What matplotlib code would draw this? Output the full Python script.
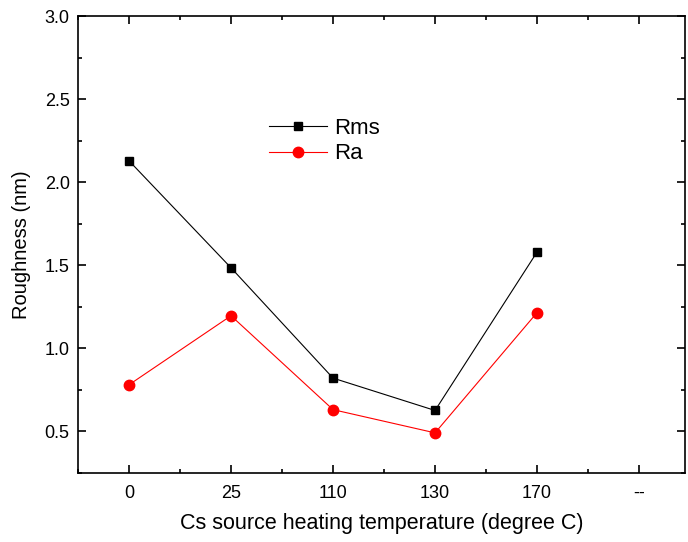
import matplotlib
matplotlib.use("Agg")
import matplotlib.pyplot as plt
from matplotlib.ticker import MultipleLocator, FixedLocator

plt.rcParams['font.family'] = ['Liberation Sans', 'DejaVu Sans']

categories = ['0', '25', '110', '130', '170', '--']
rms = [2.13, 1.485, 0.82, 0.625, 1.58]
ra = [0.78, 1.196, 0.63, 0.49, 1.215]

fig = plt.figure(figsize=(6.88, 5.42), dpi=100)
ax = fig.add_axes([0.1134, 0.1279, 0.8822, 0.8417])

x = list(range(len(rms)))
ax.plot(x, rms, color='black', lw=0.8, marker='s', ms=6, label='Rms')
ax.plot(x, ra, color='red', lw=0.8, marker='o', ms=7.5, label='Ra')

ax.set_xlim(-0.5, 5.45)
ax.set_ylim(0.25, 3.0)
ax.set_xticks(range(len(categories)))
ax.set_xticklabels(categories)
ax.xaxis.set_minor_locator(FixedLocator([i + 0.5 for i in range(-1, 6)]))
ax.yaxis.set_major_locator(MultipleLocator(0.5))
ax.yaxis.set_minor_locator(MultipleLocator(0.25))
ax.tick_params(which='both', direction='in', top=True, right=True, labelsize=13, width=1.2)
ax.tick_params(axis='x', pad=9)
ax.tick_params(axis='y', pad=6)
ax.tick_params(which='major', length=6)
ax.tick_params(which='minor', length=3)
for s in ax.spines.values():
    s.set_linewidth(1.2)

ax.set_xlabel('Cs source heating temperature (degree C)', fontsize=15.5, labelpad=8)
ax.set_ylabel('Roughness (nm)', fontsize=14.5, labelpad=10)

ax.legend(loc='upper left', bbox_to_anchor=(0.3, 0.797), frameon=False, fontsize=16,
          handlelength=2.6, handletextpad=0.35, labelspacing=0.2, borderaxespad=0)

fig.savefig('out.png', dpi=100)
